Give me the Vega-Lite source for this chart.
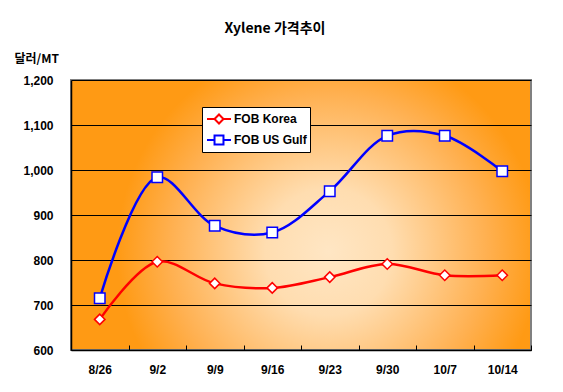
{
  "$schema": "https://vega.github.io/schema/vega-lite/v6.json",
  "width": 460,
  "height": 270,
  "autosize": {"type": "none"},
  "padding": {"left": 71, "top": 80, "right": 32, "bottom": 42},
  "background": "white",
  "title": {
    "text": "Xylene 가격추이",
    "font": "Noto Sans CJK KR",
    "fontSize": 14,
    "fontWeight": "bold",
    "color": "black",
    "anchor": "middle",
    "dx": -26,
    "offset": 16
  },
  "config": {
    "view": {
      "stroke": "#808080",
      "strokeWidth": 2,
      "fill": {
        "gradient": "radial",
        "x1": 0.56, "y1": 0.58, "r1": 0,
        "x2": 0.56, "y2": 0.58, "r2": 0.46,
        "stops": [
          {"offset": 0, "color": "#FFE6C4"},
          {"offset": 0.3, "color": "#FFDDB0"},
          {"offset": 0.75, "color": "#FFB050"},
          {"offset": 1, "color": "#FF9A14"}
        ]
      }
    },
    "axis": {
      "labelFont": "Liberation Sans",
      "labelFontWeight": "bold",
      "labelFontSize": 12,
      "labelColor": "black",
      "titleFont": "Noto Sans CJK KR",
      "domainColor": "black",
      "domainWidth": 1.5
    }
  },
  "data": {
    "values": [
      {"date": "8/26", "series": "FOB Korea", "price": 668},
      {"date": "9/2", "series": "FOB Korea", "price": 796},
      {"date": "9/9", "series": "FOB Korea", "price": 748},
      {"date": "9/16", "series": "FOB Korea", "price": 738},
      {"date": "9/23", "series": "FOB Korea", "price": 762},
      {"date": "9/30", "series": "FOB Korea", "price": 791},
      {"date": "10/7", "series": "FOB Korea", "price": 766},
      {"date": "10/14", "series": "FOB Korea", "price": 766},
      {"date": "8/26", "series": "FOB US Gulf", "price": 715},
      {"date": "9/2", "series": "FOB US Gulf", "price": 984},
      {"date": "9/9", "series": "FOB US Gulf", "price": 876},
      {"date": "9/16", "series": "FOB US Gulf", "price": 861},
      {"date": "9/23", "series": "FOB US Gulf", "price": 953},
      {"date": "9/30", "series": "FOB US Gulf", "price": 1076},
      {"date": "10/7", "series": "FOB US Gulf", "price": 1076},
      {"date": "10/14", "series": "FOB US Gulf", "price": 997}
    ]
  },
  "encoding": {
    "x": {
      "field": "date",
      "type": "nominal",
      "sort": null,
      "scale": {"type": "band", "paddingInner": 0, "paddingOuter": 0},
      "axis": {
        "title": null,
        "labelAngle": 0,
        "tickBand": "extent",
        "ticks": true,
        "tickColor": "black",
        "tickSize": -5,
        "labelPadding": 19
      }
    },
    "y": {
      "field": "price",
      "type": "quantitative",
      "scale": {"domain": [600, 1200], "nice": false},
      "axis": {
        "values": [600, 700, 800, 900, 1000, 1100, 1200],
        "format": ",.0f",
        "grid": true,
        "gridColor": "black",
        "gridWidth": 1,
        "ticks": false,
        "labelPadding": 18,
        "title": "달러/MT",
        "titleAngle": 0,
        "titleAlign": "left",
        "titleBaseline": "alphabetic",
        "titleX": -57,
        "titleY": -18,
        "titleFontSize": 12,
        "titleFontWeight": "bold",
        "titleColor": "black"
      }
    },
    "color": {
      "field": "series",
      "type": "nominal",
      "scale": {"domain": ["FOB Korea", "FOB US Gulf"], "range": ["#FF0000", "#0000FF"]},
      "legend": {
        "title": null,
        "orient": "none",
        "legendX": 131,
        "legendY": 27,
        "direction": "vertical",
        "fillColor": "white",
        "strokeColor": "black",
        "padding": 3,
        "rowPadding": 3,
        "symbolSize": 256,
        "symbolOffset": 5,
        "symbolStrokeWidth": 2,
        "labelFont": "Liberation Sans",
        "labelFontWeight": "bold",
        "labelFontSize": 12,
        "labelColor": "black",
        "labelOffset": 6,
        "encode": {
          "symbols": {
            "update": {
              "shape": {"signal": "datum.value == 'FOB Korea' ? 'M-1.5,0L-0.56,0M0.56,0L1.5,0M-0.56,0L0,-0.56L0.56,0L0,0.56Z' : 'M-1.5,0L-0.56,0M0.56,0L1.5,0M-0.56,-0.56L0.56,-0.56L0.56,0.56L-0.56,0.56Z'"},
              "fill": {"value": "white"},
              "fillOpacity": {"value": 1}
            }
          }
        }
      }
    }
  },
  "layer": [
    {
      "mark": {"type": "line", "interpolate": "catmull-rom", "strokeWidth": 2.5}
    },
    {
      "transform": [{"filter": "datum.series == 'FOB Korea'"}],
      "mark": {"type": "point", "shape": "diamond", "filled": false, "fill": "white", "fillOpacity": 1, "opacity": 1, "strokeWidth": 1.5, "size": 110}
    },
    {
      "transform": [{"filter": "datum.series == 'FOB US Gulf'"}],
      "mark": {"type": "point", "shape": "square", "filled": false, "fill": "white", "fillOpacity": 1, "opacity": 1, "strokeWidth": 1.5, "size": 110}
    }
  ]
}
